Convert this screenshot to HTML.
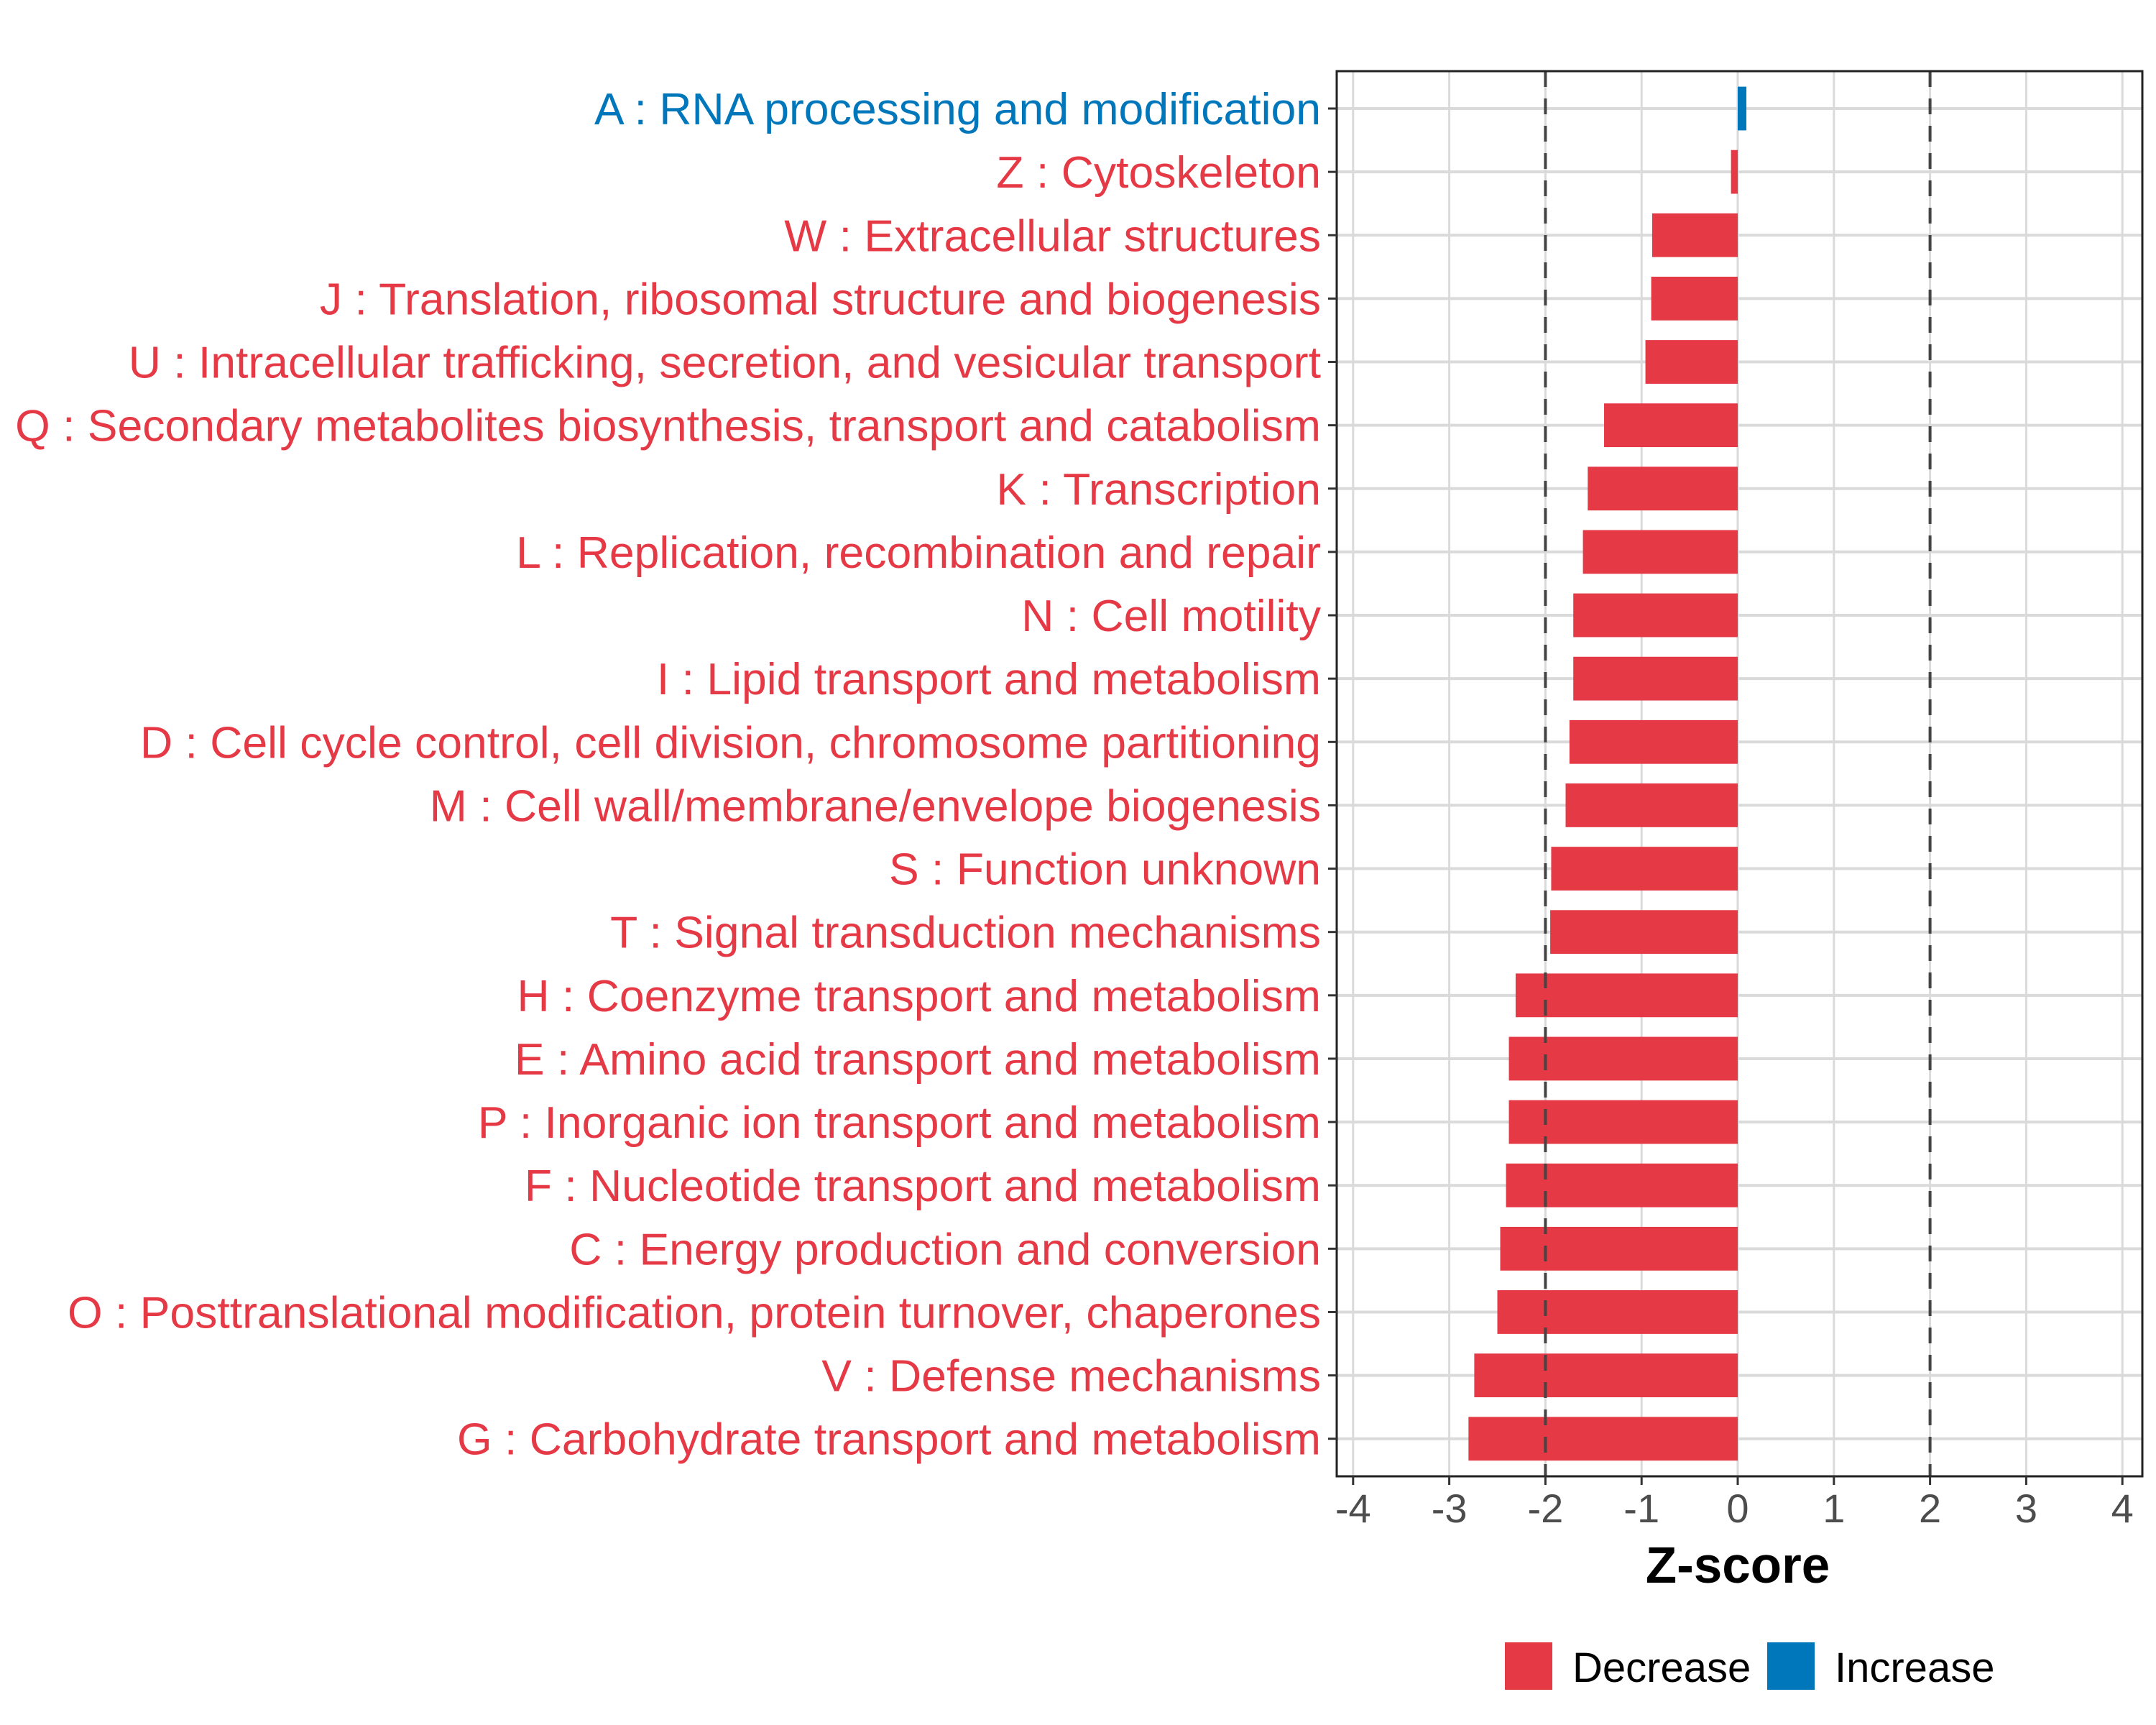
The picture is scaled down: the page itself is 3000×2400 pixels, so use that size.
<!DOCTYPE html>
<html><head><meta charset="utf-8"><style>
html,body{margin:0;padding:0;background:#fff;}
svg{display:block;font-family:"Liberation Sans",Arial,sans-serif;}
</style></head><body>
<svg id="chart" width="3000" height="2400" viewBox="0 0 3000 2400">
<rect x="0" y="0" width="3000" height="2400" fill="#fff"/>
<g id="grid"></g>
<g id="bars"></g>
<g id="refs"></g>
<rect x="1860" y="99" width="1121" height="1955" fill="none" stroke="#222" stroke-width="3"/>
<g id="ylabels"></g>
<g id="xaxis"></g>
<text x="2418" y="2202" text-anchor="middle" font-size="71" font-weight="bold" fill="#000">Z-score</text>
<g>
<rect x="2094" y="2285" width="66" height="66" fill="#E63946"/>
<text x="2188" y="2340" font-size="58" fill="#000">Decrease</text>
<rect x="2459" y="2285" width="66" height="66" fill="#0077BB"/>
<text x="2553" y="2340" font-size="58" fill="#000">Increase</text>
</g>
</svg>
<script>
const categories = [
"A : RNA processing and modification",
"Z : Cytoskeleton",
"W : Extracellular structures",
"J : Translation, ribosomal structure and biogenesis",
"U : Intracellular trafficking, secretion, and vesicular transport",
"Q : Secondary metabolites biosynthesis, transport and catabolism",
"K : Transcription",
"L : Replication, recombination and repair",
"N : Cell motility",
"I : Lipid transport and metabolism",
"D : Cell cycle control, cell division, chromosome partitioning",
"M : Cell wall/membrane/envelope biogenesis",
"S : Function unknown",
"T : Signal transduction mechanisms",
"H : Coenzyme transport and metabolism",
"E : Amino acid transport and metabolism",
"P : Inorganic ion transport and metabolism",
"F : Nucleotide transport and metabolism",
"C : Energy production and conversion",
"O : Posttranslational modification, protein turnover, chaperones",
"V : Defense mechanisms",
"G : Carbohydrate transport and metabolism"];
const zscores = [0.09,-0.07,-0.89,-0.9,-0.96,-1.39,-1.56,-1.61,-1.71,-1.71,-1.75,-1.79,-1.94,-1.95,-2.31,-2.38,-2.38,-2.41,-2.47,-2.5,-2.74,-2.8];
const xTicks = [-4,-3,-2,-1,0,1,2,3,4];
const xTickLabels = ["-4","-3","-2","-1","0","1","2","3","4"];
const refLines = [-2,2];

const NS="http://www.w3.org/2000/svg";
const X0=2418, UNIT=133.8, ROW0=151, ROWSTEP=88.13, PTOP=99, PBOT=2054, PL=1860, PR=2981;
function xs(v){return X0+v*UNIT;}
function ys(i){return ROW0+i*ROWSTEP;}
function mk(tag,attrs,parent){const e=document.createElementNS(NS,tag);for(const k in attrs)e.setAttribute(k,attrs[k]);parent.appendChild(e);return e;}
const grid=document.getElementById('grid'),bars=document.getElementById('bars'),refs=document.getElementById('refs'),yl=document.getElementById('ylabels'),xa=document.getElementById('xaxis');
xTicks.forEach((t,i)=>{
  const g=mk('line',{x1:xs(t),x2:xs(t),y1:PTOP,y2:PBOT,stroke:'#dadada','stroke-width':3},grid);
  
  
  const tk=mk('line',{x1:xs(t),x2:xs(t),y1:PBOT,y2:PBOT+12,stroke:'#333','stroke-width':3},xa);
  
  
  const tl=mk('text',{x:xs(t),y:2118,'text-anchor':'middle','font-size':56,fill:'#4d4d4d'},xa);
  tl.textContent=xTickLabels[i];
  
  
});
categories.forEach((c,i)=>{
  const y=ys(i);
  const gl=mk('line',{x1:PL,x2:PR,y1:y,y2:y,stroke:'#dadada','stroke-width':4},grid);
  
  
  const v=zscores[i];
  const col=v>=0?'#0077BB':'#E63946';
  const h=ROWSTEP*0.69;
  const r=mk('rect',{x:Math.min(xs(0),xs(v)),y:y-h/2,width:Math.abs(xs(v)-xs(0)),height:h,fill:col},bars);
  
  
  const tk=mk('line',{x1:PL-12,x2:PL,y1:y,y2:y,stroke:'#333','stroke-width':3},yl);
  
  
  const t=mk('text',{x:1838,y:y+22,'text-anchor':'end','font-size':62.5,fill:col},yl);
  t.textContent=c;
  
  
});
refLines.forEach(v=>{
  const l=mk('line',{x1:xs(v),x2:xs(v),y1:PTOP,y2:PBOT,stroke:'#444','stroke-width':4,'stroke-dasharray':'22 16'},refs);
  
  
});
</script>
</body></html>
